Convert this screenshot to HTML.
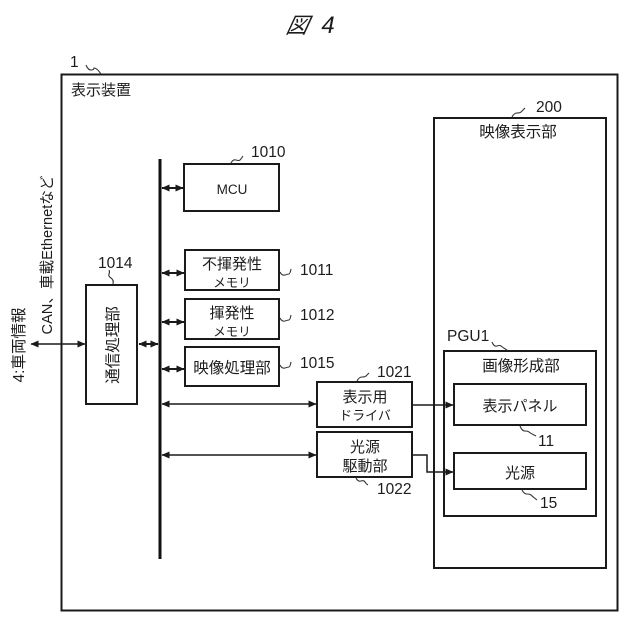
<!DOCTYPE html>
<html lang="ja">
<head>
<meta charset="utf-8">
<style>
html,body{margin:0;padding:0;background:#fff}
svg{display:block}
text{font-family:"Liberation Sans","Noto Sans CJK JP",sans-serif;font-size:15px;fill:#1c1c1c;text-anchor:middle}
.b{fill:none;stroke:#1a1a1a;stroke-width:2}
.l{fill:none;stroke:#1a1a1a;stroke-width:1.5}
.t{fill:none;stroke:#1a1a1a;stroke-width:2}
.s{fill:none;stroke:#333;stroke-width:1.1}
.n{text-anchor:start;font-size:15.5px}
</style>
</head>
<body>
<svg width="640" height="640" viewBox="0 0 640 640" xmlns="http://www.w3.org/2000/svg">
<defs>
<marker id="a" viewBox="0 0 8 8" refX="7.5" refY="4" markerWidth="8" markerHeight="8" markerUnits="userSpaceOnUse" orient="auto-start-reverse"><path d="M0 0.5L8 4L0 7.5Z" fill="#1a1a1a"/></marker>
</defs>

<text x="297" y="33" style="font-size:22px;font-style:italic" transform="translate(6 0) skewX(-12)">図</text>
<text x="328" y="33" style="font-size:24px;font-style:italic">4</text>

<rect class="b" x="61.5" y="74.5" width="556" height="536"/>
<text class="n" x="70" y="67">1</text>
<path class="s" d="M86 65q2 5 5 5t3-2q3 0 7 6"/>
<text class="n" x="71" y="95" style="font-size:15px">表示装置</text>

<rect x="158.5" y="159" width="3" height="400" fill="#111"/>

<rect class="b" x="184" y="164" width="95" height="47"/>
<text x="232" y="194" style="font-size:13.5px">MCU</text>
<text class="n" x="251" y="157">1010</text>
<path class="s" d="M231 163q2-4 5-3t4 0t3-4"/>

<rect class="b" x="185" y="250" width="94" height="40"/>
<text x="232" y="269">不揮発性</text>
<text x="232" y="287" style="font-size:12.500px">メモリ</text>
<text class="n" x="300" y="275">1011</text>
<path class="s" d="M280 272q2 4 5 3t4-1t2-5"/>

<rect class="b" x="185" y="299" width="94" height="40"/>
<text x="232" y="318">揮発性</text>
<text x="232" y="336" style="font-size:12.500px">メモリ</text>
<text class="n" x="300" y="320">1012</text>
<path class="s" d="M280 318q2 4 5 3t4-1t2-5"/>

<rect class="b" x="185" y="347" width="94" height="39"/>
<text x="232" y="373" style="font-size:15.500px">映像処理部</text>
<text class="n" x="300" y="368">1015</text>
<path class="s" d="M280 365q2 4 5 3t4-1t2-5"/>

<rect class="b" x="86" y="285" width="51" height="119"/>
<text x="0" y="0" transform="translate(118 345) rotate(-90)" style="font-size:15.500px">通信処理部</text>
<text class="n" x="98" y="268">1014</text>
<path class="s" d="M113 284q1-4-2-6t-2-4t0-4"/>

<rect class="b" x="317" y="382" width="95" height="45"/>
<text x="365" y="402">表示用</text>
<text x="365" y="420" style="font-size:13px">ドライバ</text>
<text class="n" x="377" y="377">1021</text>
<path class="s" d="M357 381q2-4 5-4t4-1t3-3"/>

<rect class="b" x="317" y="432" width="95" height="45"/>
<text x="365" y="452">光源</text>
<text x="365" y="471">駆動部</text>
<text class="n" x="377" y="494">1022</text>
<path class="s" d="M356 478q2 4 5 3t4 1t3 3"/>

<rect class="b" x="434" y="118" width="172" height="450"/>
<text x="518" y="137" style="font-size:15.500px">映像表示部</text>
<text class="n" x="536" y="112">200</text>
<path class="s" d="M512 117q2-4 5-4t4-1t4-4"/>

<rect class="b" x="444" y="351" width="152" height="165"/>
<text x="521" y="371" style="font-size:15.500px">画像形成部</text>
<text class="n" x="447" y="341">PGU1</text>
<path class="s" d="M492 342q2 5 5 4t4 0t6 4"/>

<rect class="b" x="454" y="384" width="132" height="41"/>
<text x="520" y="411">表示パネル</text>
<text class="n" x="538" y="446">11</text>
<path class="s" d="M520 426q2 5 5 5t4 1t7 4"/>

<rect class="b" x="454" y="453" width="132" height="36"/>
<text x="520" y="478">光源</text>
<text class="n" x="540" y="508">15</text>
<path class="s" d="M522 490q2 4 5 4t4 1t6 5"/>

<path class="l" d="M31 344H85" marker-start="url(#a)" marker-end="url(#a)"/>
<path class="t" d="M139 344H158" marker-start="url(#a)" marker-end="url(#a)"/>
<path class="t" d="M162 188H183" marker-start="url(#a)" marker-end="url(#a)"/>
<path class="t" d="M162 273H184" marker-start="url(#a)" marker-end="url(#a)"/>
<path class="t" d="M162 322H184" marker-start="url(#a)" marker-end="url(#a)"/>
<path class="t" d="M162 369H184" marker-start="url(#a)" marker-end="url(#a)"/>
<path class="l" d="M162 404H316" marker-start="url(#a)" marker-end="url(#a)"/>
<path class="l" d="M162 455H316" marker-start="url(#a)" marker-end="url(#a)"/>
<path class="l" d="M413 405H453" marker-end="url(#a)"/>
<path class="l" d="M413 455H427V472H453" marker-end="url(#a)"/>

<text x="0" y="0" transform="translate(24 345) rotate(-90)" style="font-size:15.500px">4:車両情報</text>
<text x="0" y="0" transform="translate(52 255) rotate(-90)" style="font-size:14.600px">CAN、車載Ethernetなど</text>
</svg>
</body>
</html>
